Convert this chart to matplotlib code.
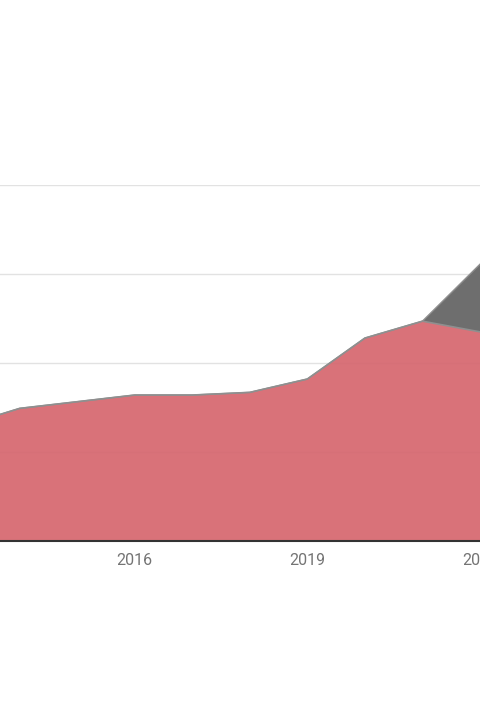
import matplotlib.pyplot as plt
import numpy as np

years = [2013, 2014, 2015, 2016, 2017, 2018, 2019, 2020, 2021, 2022]
base_values = [12.9, 14.9, 15.65, 16.4, 16.4, 16.7, 18.2, 22.8, 24.7, 23.5]
extra_values = [0, 0, 0, 0, 0, 0, 0, 0, 0, 7.6]
tick_years = [2016, 2019, 2022]

plt.rcParams['font.family'] = ['Roboto', 'DejaVu Sans']

fig = plt.figure(figsize=(4.8, 7.2), dpi=100)
ax = fig.add_axes([0, 179 / 720, 1, 356 / 720])

x = np.array(years)
base = np.array(base_values)
top = base + np.array(extra_values)

ax.fill_between(x, 0, base, color='#d6676f', alpha=0.93, linewidth=0, zorder=2)
ax.fill_between(x, base, top, color='#6e6e6e', linewidth=0, zorder=2)
ax.plot(x, base, color='#8f8f8f', linewidth=1.2, zorder=3)
ax.plot(x, top, color='#8f8f8f', linewidth=1.0, zorder=3)

ax.set_xlim(2016 - 135 / 57.67, 2016 + 345 / 57.67)
ax.set_ylim(0, 40)
ax.set_yticks([10, 20, 30, 40])
ax.yaxis.grid(True, color='#e2e2e2', linewidth=1, zorder=0)
ax.set_axisbelow(True)
ax.set_xticks(tick_years)
ax.set_xticklabels([str(y) for y in tick_years])
ax.tick_params(axis='x', length=0, pad=8.5, labelsize=11.5, labelcolor='#747474')
ax.tick_params(axis='y', length=0, labelleft=False)

for side in ['top', 'right', 'left']:
    ax.spines[side].set_visible(False)
ax.spines['bottom'].set_color('#333333')
ax.spines['bottom'].set_linewidth(1.5)
ax.spines['bottom'].set_zorder(4)

fig.savefig('out.png', dpi=100)
